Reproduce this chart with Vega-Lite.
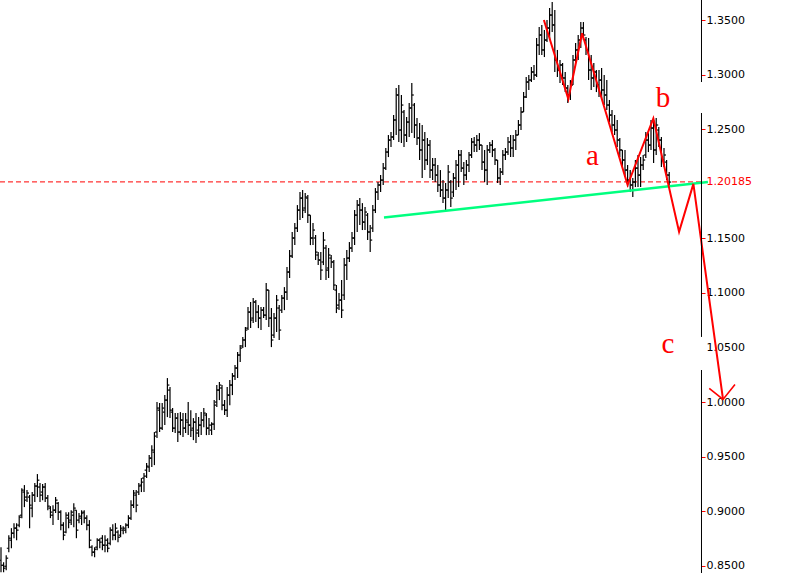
{
  "$schema": "https://vega.github.io/schema/vega-lite/v6.json",
  "width": 701,
  "height": 573,
  "autosize": {"type": "none"},
  "padding": {"left": 0, "top": 0, "right": 95, "bottom": 0},
  "background": "white",
  "config": {"view": {"stroke": null}, "axis": {"labelFont": "DejaVu Sans", "labelFontSize": 11}},
  "datasets": {
    "bars": [
      {"i":0,"h":0.8670,"l":0.8440,"o":0.8550,"c":0.8504},
      {"i":1,"h":0.8532,"l":0.8440,"o":0.8504,"c":0.8477},
      {"i":2,"h":0.8596,"l":0.8459,"o":0.8495,"c":0.8569},
      {"i":3,"h":0.8780,"l":0.8624,"o":0.8660,"c":0.8752},
      {"i":4,"h":0.8844,"l":0.8660,"o":0.8734,"c":0.8798},
      {"i":5,"h":0.8890,"l":0.8752,"o":0.8798,"c":0.8844},
      {"i":6,"h":0.8890,"l":0.8734,"o":0.8844,"c":0.8826},
      {"i":7,"h":0.8963,"l":0.8853,"o":0.8872,"c":0.8945},
      {"i":8,"h":0.9211,"l":0.8936,"o":0.8963,"c":0.9193},
      {"i":9,"h":0.9239,"l":0.9037,"o":0.9175,"c":0.9101},
      {"i":10,"h":0.9193,"l":0.9083,"o":0.9129,"c":0.9166},
      {"i":11,"h":0.9147,"l":0.8844,"o":0.9129,"c":0.9055},
      {"i":12,"h":0.9175,"l":0.8945,"o":0.9028,"c":0.9147},
      {"i":13,"h":0.9257,"l":0.9083,"o":0.9147,"c":0.9230},
      {"i":14,"h":0.9340,"l":0.9129,"o":0.9230,"c":0.9284},
      {"i":15,"h":0.9257,"l":0.9083,"o":0.9221,"c":0.9147},
      {"i":16,"h":0.9248,"l":0.9101,"o":0.9175,"c":0.9221},
      {"i":17,"h":0.9257,"l":0.9083,"o":0.9221,"c":0.9120},
      {"i":18,"h":0.9147,"l":0.9009,"o":0.9120,"c":0.9046},
      {"i":19,"h":0.9046,"l":0.8936,"o":0.9028,"c":0.8991},
      {"i":20,"h":0.9055,"l":0.8872,"o":0.8963,"c":0.9009},
      {"i":21,"h":0.9129,"l":0.8982,"o":0.9009,"c":0.9101},
      {"i":22,"h":0.9083,"l":0.8918,"o":0.9073,"c":0.8991},
      {"i":23,"h":0.9009,"l":0.8826,"o":0.8991,"c":0.8872},
      {"i":24,"h":0.8899,"l":0.8734,"o":0.8872,"c":0.8780},
      {"i":25,"h":0.8991,"l":0.8798,"o":0.8808,"c":0.8963},
      {"i":26,"h":0.8991,"l":0.8844,"o":0.8936,"c":0.8899},
      {"i":27,"h":0.9009,"l":0.8872,"o":0.8918,"c":0.8991},
      {"i":28,"h":0.9073,"l":0.8853,"o":0.8963,"c":0.9028},
      {"i":29,"h":0.9009,"l":0.8752,"o":0.9009,"c":0.8826},
      {"i":30,"h":0.8982,"l":0.8890,"o":0.8918,"c":0.8954},
      {"i":31,"h":0.9009,"l":0.8872,"o":0.8936,"c":0.8982},
      {"i":32,"h":0.9009,"l":0.8890,"o":0.8991,"c":0.8936},
      {"i":33,"h":0.8963,"l":0.8826,"o":0.8936,"c":0.8872},
      {"i":34,"h":0.8918,"l":0.8660,"o":0.8872,"c":0.8734},
      {"i":35,"h":0.8688,"l":0.8587,"o":0.8670,"c":0.8624},
      {"i":36,"h":0.8670,"l":0.8578,"o":0.8624,"c":0.8651},
      {"i":37,"h":0.8752,"l":0.8642,"o":0.8670,"c":0.8734},
      {"i":38,"h":0.8752,"l":0.8660,"o":0.8734,"c":0.8716},
      {"i":39,"h":0.8780,"l":0.8642,"o":0.8752,"c":0.8688},
      {"i":40,"h":0.8780,"l":0.8624,"o":0.8688,"c":0.8734},
      {"i":41,"h":0.8752,"l":0.8624,"o":0.8688,"c":0.8660},
      {"i":42,"h":0.8853,"l":0.8688,"o":0.8706,"c":0.8826},
      {"i":43,"h":0.8881,"l":0.8734,"o":0.8826,"c":0.8780},
      {"i":44,"h":0.8890,"l":0.8734,"o":0.8780,"c":0.8844},
      {"i":45,"h":0.8826,"l":0.8716,"o":0.8808,"c":0.8761},
      {"i":46,"h":0.8872,"l":0.8761,"o":0.8780,"c":0.8844},
      {"i":47,"h":0.8862,"l":0.8789,"o":0.8826,"c":0.8844},
      {"i":48,"h":0.8890,"l":0.8798,"o":0.8826,"c":0.8872},
      {"i":49,"h":0.8963,"l":0.8844,"o":0.8872,"c":0.8936},
      {"i":50,"h":0.9101,"l":0.8918,"o":0.8936,"c":0.9055},
      {"i":51,"h":0.9193,"l":0.9028,"o":0.9055,"c":0.9166},
      {"i":52,"h":0.9193,"l":0.8991,"o":0.9147,"c":0.9055},
      {"i":53,"h":0.9257,"l":0.9147,"o":0.9175,"c":0.9230},
      {"i":54,"h":0.9303,"l":0.9175,"o":0.9239,"c":0.9266},
      {"i":55,"h":0.9349,"l":0.9175,"o":0.9303,"c":0.9321},
      {"i":56,"h":0.9441,"l":0.9303,"o":0.9376,"c":0.9413},
      {"i":57,"h":0.9514,"l":0.9358,"o":0.9404,"c":0.9486},
      {"i":58,"h":0.9605,"l":0.9404,"o":0.9486,"c":0.9560},
      {"i":59,"h":0.9725,"l":0.9422,"o":0.9541,"c":0.9688},
      {"i":60,"h":1.0000,"l":0.9670,"o":0.9725,"c":0.9945},
      {"i":61,"h":0.9991,"l":0.9725,"o":0.9926,"c":0.9761},
      {"i":62,"h":0.9991,"l":0.9743,"o":0.9761,"c":0.9945},
      {"i":63,"h":1.0064,"l":0.9789,"o":0.9908,"c":1.0018},
      {"i":64,"h":1.0220,"l":0.9862,"o":1.0018,"c":1.0156},
      {"i":65,"h":1.0138,"l":0.9853,"o":1.0110,"c":0.9926},
      {"i":66,"h":0.9945,"l":0.9725,"o":0.9908,"c":0.9761},
      {"i":67,"h":0.9899,"l":0.9716,"o":0.9761,"c":0.9853},
      {"i":68,"h":0.9899,"l":0.9633,"o":0.9853,"c":0.9725},
      {"i":69,"h":0.9908,"l":0.9697,"o":0.9725,"c":0.9835},
      {"i":70,"h":0.9899,"l":0.9679,"o":0.9835,"c":0.9761},
      {"i":71,"h":0.9899,"l":0.9716,"o":0.9761,"c":0.9835},
      {"i":72,"h":1.0000,"l":0.9697,"o":0.9816,"c":0.9789},
      {"i":73,"h":0.9926,"l":0.9679,"o":0.9789,"c":0.9743},
      {"i":74,"h":0.9853,"l":0.9651,"o":0.9761,"c":0.9816},
      {"i":75,"h":0.9899,"l":0.9624,"o":0.9816,"c":0.9716},
      {"i":76,"h":0.9862,"l":0.9679,"o":0.9743,"c":0.9789},
      {"i":77,"h":0.9908,"l":0.9697,"o":0.9789,"c":0.9835},
      {"i":78,"h":0.9945,"l":0.9770,"o":0.9835,"c":0.9899},
      {"i":79,"h":0.9899,"l":0.9697,"o":0.9881,"c":0.9761},
      {"i":80,"h":0.9853,"l":0.9697,"o":0.9761,"c":0.9789},
      {"i":81,"h":0.9816,"l":0.9697,"o":0.9743,"c":0.9798},
      {"i":82,"h":1.0018,"l":0.9743,"o":0.9798,"c":0.9972},
      {"i":83,"h":1.0156,"l":0.9954,"o":1.0000,"c":1.0110},
      {"i":84,"h":1.0184,"l":1.0018,"o":1.0110,"c":1.0156},
      {"i":85,"h":1.0156,"l":0.9926,"o":1.0129,"c":0.9972},
      {"i":86,"h":1.0018,"l":0.9881,"o":0.9972,"c":0.9926},
      {"i":87,"h":1.0138,"l":0.9862,"o":0.9926,"c":1.0064},
      {"i":88,"h":1.0202,"l":0.9972,"o":1.0064,"c":1.0156},
      {"i":89,"h":1.0266,"l":1.0064,"o":1.0156,"c":1.0239},
      {"i":90,"h":1.0339,"l":1.0202,"o":1.0239,"c":1.0312},
      {"i":91,"h":1.0459,"l":1.0220,"o":1.0312,"c":1.0431},
      {"i":92,"h":1.0523,"l":1.0367,"o":1.0431,"c":1.0495},
      {"i":93,"h":1.0596,"l":1.0495,"o":1.0514,"c":1.0569},
      {"i":94,"h":1.0688,"l":1.0504,"o":1.0569,"c":1.0660},
      {"i":95,"h":1.0871,"l":1.0660,"o":1.0678,"c":1.0825},
      {"i":96,"h":1.0917,"l":1.0678,"o":1.0825,"c":1.0752},
      {"i":97,"h":1.0953,"l":1.0724,"o":1.0770,"c":1.0917},
      {"i":98,"h":1.0935,"l":1.0733,"o":1.0917,"c":1.0825},
      {"i":99,"h":1.0889,"l":1.0678,"o":1.0825,"c":1.0770},
      {"i":100,"h":1.0871,"l":1.0660,"o":1.0770,"c":1.0843},
      {"i":101,"h":1.0871,"l":1.0770,"o":1.0843,"c":1.0797},
      {"i":102,"h":1.1091,"l":1.0752,"o":1.0797,"c":1.1027},
      {"i":103,"h":1.1027,"l":1.0688,"o":1.1027,"c":1.0770},
      {"i":104,"h":1.0862,"l":1.0504,"o":1.0770,"c":1.0569},
      {"i":105,"h":1.0816,"l":1.0587,"o":1.0614,"c":1.0770},
      {"i":106,"h":1.0981,"l":1.0642,"o":1.0770,"c":1.0935},
      {"i":107,"h":1.0889,"l":1.0569,"o":1.0862,"c":1.0660},
      {"i":108,"h":1.0981,"l":1.0816,"o":1.0843,"c":1.0953},
      {"i":109,"h":1.1054,"l":1.0843,"o":1.0953,"c":1.1008},
      {"i":110,"h":1.1238,"l":1.0935,"o":1.1008,"c":1.1192},
      {"i":111,"h":1.1394,"l":1.1137,"o":1.1192,"c":1.1339},
      {"i":112,"h":1.1559,"l":1.1320,"o":1.1339,"c":1.1504},
      {"i":113,"h":1.1641,"l":1.1439,"o":1.1504,"c":1.1595},
      {"i":114,"h":1.1806,"l":1.1559,"o":1.1595,"c":1.1760},
      {"i":115,"h":1.1925,"l":1.1669,"o":1.1760,"c":1.1870},
      {"i":116,"h":1.1944,"l":1.1687,"o":1.1870,"c":1.1760},
      {"i":117,"h":1.1916,"l":1.1733,"o":1.1779,"c":1.1880},
      {"i":118,"h":1.1898,"l":1.1641,"o":1.1870,"c":1.1714},
      {"i":119,"h":1.1714,"l":1.1439,"o":1.1714,"c":1.1504},
      {"i":120,"h":1.1641,"l":1.1439,"o":1.1504,"c":1.1577},
      {"i":121,"h":1.1531,"l":1.1302,"o":1.1504,"c":1.1375},
      {"i":122,"h":1.1375,"l":1.1256,"o":1.1348,"c":1.1302},
      {"i":123,"h":1.1375,"l":1.1119,"o":1.1302,"c":1.1210},
      {"i":124,"h":1.1559,"l":1.1256,"o":1.1284,"c":1.1485},
      {"i":125,"h":1.1439,"l":1.1119,"o":1.1412,"c":1.1210},
      {"i":126,"h":1.1412,"l":1.1137,"o":1.1229,"c":1.1348},
      {"i":127,"h":1.1348,"l":1.1229,"o":1.1320,"c":1.1284},
      {"i":128,"h":1.1302,"l":1.1027,"o":1.1284,"c":1.1073},
      {"i":129,"h":1.1073,"l":1.0816,"o":1.1027,"c":1.0862},
      {"i":130,"h":1.0999,"l":1.0843,"o":1.0889,"c":1.0935},
      {"i":131,"h":1.1119,"l":1.0770,"o":1.0935,"c":1.0843},
      {"i":132,"h":1.1320,"l":1.0935,"o":1.0981,"c":1.1256},
      {"i":133,"h":1.1394,"l":1.1119,"o":1.1256,"c":1.1320},
      {"i":134,"h":1.1467,"l":1.1284,"o":1.1320,"c":1.1412},
      {"i":135,"h":1.1559,"l":1.1375,"o":1.1412,"c":1.1504},
      {"i":136,"h":1.1760,"l":1.1439,"o":1.1504,"c":1.1714},
      {"i":137,"h":1.1852,"l":1.1559,"o":1.1714,"c":1.1806},
      {"i":138,"h":1.1870,"l":1.1623,"o":1.1806,"c":1.1760},
      {"i":139,"h":1.1824,"l":1.1577,"o":1.1760,"c":1.1650},
      {"i":140,"h":1.1788,"l":1.1577,"o":1.1650,"c":1.1742},
      {"i":141,"h":1.1733,"l":1.1485,"o":1.1714,"c":1.1559},
      {"i":142,"h":1.1623,"l":1.1375,"o":1.1559,"c":1.1485},
      {"i":143,"h":1.1806,"l":1.1559,"o":1.1595,"c":1.1760},
      {"i":144,"h":1.1962,"l":1.1733,"o":1.1760,"c":1.1925},
      {"i":145,"h":1.2017,"l":1.1852,"o":1.1925,"c":1.1990},
      {"i":146,"h":1.2081,"l":1.1925,"o":1.1990,"c":1.2035},
      {"i":147,"h":1.2191,"l":1.1990,"o":1.2035,"c":1.2145},
      {"i":148,"h":1.2329,"l":1.2127,"o":1.2145,"c":1.2292},
      {"i":149,"h":1.2448,"l":1.2246,"o":1.2292,"c":1.2402},
      {"i":150,"h":1.2476,"l":1.2338,"o":1.2402,"c":1.2430},
      {"i":151,"h":1.2631,"l":1.2402,"o":1.2430,"c":1.2586},
      {"i":152,"h":1.2879,"l":1.2448,"o":1.2586,"c":1.2815},
      {"i":153,"h":1.2907,"l":1.2384,"o":1.2815,"c":1.2494},
      {"i":154,"h":1.2815,"l":1.2375,"o":1.2494,"c":1.2723},
      {"i":155,"h":1.2677,"l":1.2338,"o":1.2659,"c":1.2448},
      {"i":156,"h":1.2613,"l":1.2384,"o":1.2448,"c":1.2567},
      {"i":157,"h":1.2742,"l":1.2430,"o":1.2567,"c":1.2696},
      {"i":158,"h":1.2925,"l":1.2466,"o":1.2696,"c":1.2815},
      {"i":159,"h":1.2742,"l":1.2421,"o":1.2723,"c":1.2540},
      {"i":160,"h":1.2604,"l":1.2356,"o":1.2540,"c":1.2421},
      {"i":161,"h":1.2558,"l":1.2219,"o":1.2421,"c":1.2311},
      {"i":162,"h":1.2540,"l":1.2054,"o":1.2311,"c":1.2402},
      {"i":163,"h":1.2476,"l":1.2127,"o":1.2402,"c":1.2219},
      {"i":164,"h":1.2421,"l":1.2173,"o":1.2219,"c":1.2356},
      {"i":165,"h":1.2402,"l":1.2054,"o":1.2356,"c":1.2127},
      {"i":166,"h":1.2237,"l":1.2035,"o":1.2127,"c":1.2173},
      {"i":167,"h":1.2237,"l":1.2017,"o":1.2173,"c":1.2081},
      {"i":168,"h":1.2173,"l":1.1925,"o":1.2081,"c":1.1990},
      {"i":169,"h":1.2127,"l":1.1880,"o":1.1990,"c":1.1944},
      {"i":170,"h":1.2035,"l":1.1824,"o":1.1944,"c":1.1870},
      {"i":171,"h":1.2008,"l":1.1760,"o":1.1870,"c":1.1944},
      {"i":172,"h":1.2173,"l":1.1870,"o":1.1944,"c":1.2109},
      {"i":173,"h":1.2035,"l":1.1788,"o":1.2017,"c":1.1870},
      {"i":174,"h":1.2100,"l":1.1880,"o":1.1925,"c":1.2054},
      {"i":175,"h":1.2219,"l":1.1944,"o":1.2054,"c":1.2173},
      {"i":176,"h":1.2311,"l":1.1971,"o":1.2173,"c":1.2265},
      {"i":177,"h":1.2311,"l":1.2109,"o":1.2265,"c":1.2145},
      {"i":178,"h":1.2200,"l":1.1990,"o":1.2145,"c":1.2081},
      {"i":179,"h":1.2219,"l":1.2035,"o":1.2081,"c":1.2173},
      {"i":180,"h":1.2292,"l":1.2109,"o":1.2173,"c":1.2265},
      {"i":181,"h":1.2421,"l":1.2237,"o":1.2265,"c":1.2384},
      {"i":182,"h":1.2430,"l":1.2292,"o":1.2384,"c":1.2356},
      {"i":183,"h":1.2448,"l":1.2292,"o":1.2356,"c":1.2402},
      {"i":184,"h":1.2466,"l":1.2311,"o":1.2402,"c":1.2356},
      {"i":185,"h":1.2356,"l":1.2127,"o":1.2356,"c":1.2200},
      {"i":186,"h":1.2311,"l":1.2017,"o":1.2200,"c":1.2127},
      {"i":187,"h":1.2356,"l":1.1990,"o":1.2127,"c":1.2311},
      {"i":188,"h":1.2384,"l":1.2283,"o":1.2311,"c":1.2356},
      {"i":189,"h":1.2402,"l":1.2246,"o":1.2356,"c":1.2311},
      {"i":190,"h":1.2329,"l":1.2173,"o":1.2311,"c":1.2219},
      {"i":191,"h":1.2219,"l":1.2008,"o":1.2219,"c":1.2054},
      {"i":192,"h":1.2145,"l":1.1990,"o":1.2054,"c":1.2109},
      {"i":193,"h":1.2311,"l":1.2081,"o":1.2109,"c":1.2265},
      {"i":194,"h":1.2329,"l":1.2219,"o":1.2265,"c":1.2292},
      {"i":195,"h":1.2430,"l":1.2265,"o":1.2292,"c":1.2384},
      {"i":196,"h":1.2448,"l":1.2246,"o":1.2384,"c":1.2329},
      {"i":197,"h":1.2448,"l":1.2246,"o":1.2329,"c":1.2402},
      {"i":198,"h":1.2494,"l":1.2311,"o":1.2402,"c":1.2448},
      {"i":199,"h":1.2586,"l":1.2448,"o":1.2448,"c":1.2540},
      {"i":200,"h":1.2705,"l":1.2494,"o":1.2540,"c":1.2659},
      {"i":201,"h":1.2842,"l":1.2659,"o":1.2659,"c":1.2797},
      {"i":202,"h":1.2980,"l":1.2787,"o":1.2797,"c":1.2934},
      {"i":203,"h":1.2998,"l":1.2861,"o":1.2934,"c":1.2952},
      {"i":204,"h":1.3072,"l":1.2934,"o":1.2952,"c":1.3026},
      {"i":205,"h":1.3090,"l":1.2952,"o":1.3026,"c":1.2998},
      {"i":206,"h":1.3338,"l":1.2980,"o":1.2998,"c":1.3273},
      {"i":207,"h":1.3438,"l":1.3182,"o":1.3273,"c":1.3365},
      {"i":208,"h":1.3457,"l":1.3182,"o":1.3365,"c":1.3228},
      {"i":209,"h":1.3411,"l":1.3163,"o":1.3228,"c":1.3319},
      {"i":210,"h":1.3503,"l":1.3301,"o":1.3319,"c":1.3429},
      {"i":211,"h":1.3613,"l":1.3319,"o":1.3429,"c":1.3548},
      {"i":212,"h":1.3668,"l":1.3393,"o":1.3548,"c":1.3457},
      {"i":213,"h":1.3594,"l":1.3026,"o":1.3457,"c":1.3136},
      {"i":214,"h":1.3228,"l":1.2980,"o":1.3136,"c":1.3044},
      {"i":215,"h":1.3136,"l":1.2925,"o":1.3044,"c":1.3090},
      {"i":216,"h":1.3108,"l":1.2907,"o":1.3090,"c":1.2971},
      {"i":217,"h":1.3026,"l":1.2842,"o":1.2971,"c":1.2879},
      {"i":218,"h":1.2907,"l":1.2742,"o":1.2879,"c":1.2815},
      {"i":219,"h":1.2952,"l":1.2769,"o":1.2815,"c":1.2907},
      {"i":220,"h":1.3182,"l":1.2907,"o":1.2907,"c":1.3136},
      {"i":221,"h":1.3292,"l":1.3117,"o":1.3136,"c":1.3228},
      {"i":222,"h":1.3365,"l":1.3136,"o":1.3228,"c":1.3319},
      {"i":223,"h":1.3484,"l":1.3246,"o":1.3319,"c":1.3429},
      {"i":224,"h":1.3484,"l":1.3319,"o":1.3429,"c":1.3365},
      {"i":225,"h":1.3347,"l":1.3182,"o":1.3319,"c":1.3228},
      {"i":226,"h":1.3338,"l":1.2952,"o":1.3228,"c":1.3044},
      {"i":227,"h":1.3182,"l":1.2861,"o":1.3044,"c":1.2971},
      {"i":228,"h":1.3108,"l":1.2888,"o":1.2971,"c":1.3026},
      {"i":229,"h":1.3044,"l":1.2842,"o":1.3026,"c":1.2907},
      {"i":230,"h":1.3044,"l":1.2797,"o":1.2907,"c":1.2952},
      {"i":231,"h":1.3062,"l":1.2769,"o":1.2952,"c":1.2861},
      {"i":232,"h":1.2998,"l":1.2723,"o":1.2861,"c":1.2815},
      {"i":233,"h":1.2952,"l":1.2677,"o":1.2815,"c":1.2723},
      {"i":234,"h":1.2769,"l":1.2567,"o":1.2723,"c":1.2631},
      {"i":235,"h":1.2677,"l":1.2476,"o":1.2631,"c":1.2540},
      {"i":236,"h":1.2631,"l":1.2448,"o":1.2540,"c":1.2494},
      {"i":237,"h":1.2586,"l":1.2338,"o":1.2494,"c":1.2402},
      {"i":238,"h":1.2421,"l":1.2246,"o":1.2402,"c":1.2311},
      {"i":239,"h":1.2311,"l":1.2155,"o":1.2311,"c":1.2219},
      {"i":240,"h":1.2311,"l":1.2063,"o":1.2219,"c":1.2127},
      {"i":241,"h":1.2173,"l":1.1971,"o":1.2127,"c":1.2035},
      {"i":242,"h":1.2127,"l":1.1925,"o":1.2035,"c":1.1990},
      {"i":243,"h":1.2054,"l":1.1880,"o":1.1990,"c":1.2017},
      {"i":244,"h":1.2219,"l":1.1971,"o":1.2017,"c":1.2145},
      {"i":245,"h":1.2265,"l":1.1971,"o":1.2145,"c":1.2081},
      {"i":246,"h":1.2246,"l":1.1971,"o":1.2081,"c":1.2173},
      {"i":247,"h":1.2265,"l":1.2127,"o":1.2173,"c":1.2219},
      {"i":248,"h":1.2476,"l":1.2237,"o":1.2265,"c":1.2402},
      {"i":249,"h":1.2466,"l":1.2292,"o":1.2402,"c":1.2356},
      {"i":250,"h":1.2586,"l":1.2311,"o":1.2356,"c":1.2512},
      {"i":251,"h":1.2586,"l":1.2191,"o":1.2512,"c":1.2311},
      {"i":252,"h":1.2604,"l":1.2265,"o":1.2311,"c":1.2540},
      {"i":253,"h":1.2521,"l":1.2338,"o":1.2494,"c":1.2402},
      {"i":254,"h":1.2430,"l":1.2155,"o":1.2402,"c":1.2219},
      {"i":255,"h":1.2329,"l":1.2155,"o":1.2219,"c":1.2265},
      {"i":256,"h":1.2219,"l":1.2035,"o":1.2200,"c":1.2081},
      {"i":257,"h":1.2109,"l":1.1971,"o":1.2081,"c":1.2017}
    ],
    "green": [
      {"i":147.3,"p":1.1691},
      {"i":271.9,"p":1.2018}
    ],
    "zig": [
      {"k":1,"i":208.8,"p":1.3503},
      {"k":2,"i":218.2,"p":1.2778},
      {"k":3,"i":223.5,"p":1.3381},
      {"k":4,"i":241.0,"p":1.1990},
      {"k":5,"i":250.9,"p":1.2601},
      {"k":6,"i":260.8,"p":1.1561},
      {"k":7,"i":266.3,"p":1.2000},
      {"k":8,"i":277.7,"p":1.0024}
    ],
    "arrow": [
      {"k":1,"i":272.4,"p":1.0125},
      {"k":2,"i":277.7,"p":1.0024},
      {"k":3,"i":282.3,"p":1.0162}
    ],
    "labels": [
      {"t":"a","i":227.5,"p":1.2173},
      {"t":"b","i":254.6,"p":1.2702},
      {"t":"c","i":256.5,"p":1.0452}
    ],
    "axisseg": [
      {"y1":1.3686,"y2":1.2934},
      {"y1":1.2650,"y2":1.0597},
      {"y1":1.0294,"y2":0.8433}
    ]
  },
  "layer": [
    {
      "data": {"values": [{"v": 1.20185}]},
      "mark": {"type": "rule", "color": "#ff0000", "strokeWidth": 1, "strokeDash": [5, 3]},
      "encoding": {
        "y": {
          "field": "v", "type": "quantitative", "title": null,
          "scale": {"domain": [0.8433, 1.3686], "nice": false, "zero": false},
          "axis": {
            "orient": "right", "title": null, "grid": false, "domain": false,
            "values": [0.85, 0.9, 0.95, 1, 1.05, 1.1, 1.15, 1.20185, 1.25, 1.3, 1.35],
            "labelExpr": "datum.value > 1.2018 && datum.value < 1.2019 ? '1.20185' : format(datum.value, '.4f')",
            "labelColor": {"condition": {"test": "datum.value > 1.2018 && datum.value < 1.2019", "value": "#ff0000"}, "value": "#000000"},
            "tickColor": {"condition": {"test": "datum.value > 1.049 && datum.value < 1.051", "value": "transparent"}, "value": "#ff0000"},
            "tickSize": 4, "tickWidth": 1, "labelPadding": 1,
            "labelOverlap": false, "labelBound": false, "labelFlush": false,
            "labelBaseline": "middle"
          }
        }
      }
    },
    {
      "data": {"name": "bars"},
      "mark": {"type": "rule", "color": "#000000", "strokeWidth": 1.2},
      "encoding": {
        "x": {"field": "i", "type": "quantitative", "scale": {"domain": [-0.385, 269.23], "nice": false, "zero": false}, "axis": null},
        "y": {"field": "l", "type": "quantitative", "title": null},
        "y2": {"field": "h"}
      }
    },
    {
      "data": {"name": "bars"},
      "mark": {"type": "tick", "orient": "horizontal", "size": 2, "thickness": 1.2, "xOffset": -1, "color": "#000000", "opacity": 1},
      "encoding": {
        "x": {"field": "i", "type": "quantitative", "axis": null},
        "y": {"field": "o", "type": "quantitative", "title": null}
      }
    },
    {
      "data": {"name": "bars"},
      "mark": {"type": "tick", "orient": "horizontal", "size": 2, "thickness": 1.2, "xOffset": 1, "color": "#000000", "opacity": 1},
      "encoding": {
        "x": {"field": "i", "type": "quantitative", "axis": null},
        "y": {"field": "c", "type": "quantitative", "title": null}
      }
    },
    {
      "data": {"name": "green"},
      "mark": {"type": "line", "color": "#00ff7f", "strokeWidth": 2.5},
      "encoding": {
        "x": {"field": "i", "type": "quantitative", "axis": null},
        "y": {"field": "p", "type": "quantitative", "title": null}
      }
    },
    {
      "data": {"name": "zig"},
      "mark": {"type": "line", "color": "#ff0000", "strokeWidth": 2, "strokeJoin": "miter"},
      "encoding": {
        "x": {"field": "i", "type": "quantitative", "axis": null},
        "y": {"field": "p", "type": "quantitative", "title": null},
        "order": {"field": "k"}
      }
    },
    {
      "data": {"name": "arrow"},
      "mark": {"type": "line", "color": "#ff0000", "strokeWidth": 1.6},
      "encoding": {
        "x": {"field": "i", "type": "quantitative", "axis": null},
        "y": {"field": "p", "type": "quantitative", "title": null},
        "order": {"field": "k"}
      }
    },
    {
      "data": {"name": "labels"},
      "mark": {"type": "text", "color": "#ff0000", "font": "Liberation Serif", "fontSize": 29, "align": "center", "baseline": "alphabetic"},
      "encoding": {
        "x": {"field": "i", "type": "quantitative", "axis": null},
        "y": {"field": "p", "type": "quantitative", "title": null},
        "text": {"field": "t"}
      }
    },
    {
      "data": {"name": "axisseg"},
      "mark": {"type": "rule", "color": "#000000", "strokeWidth": 1},
      "encoding": {
        "x": {"datum": 269.42, "type": "quantitative", "axis": null},
        "y": {"field": "y1", "type": "quantitative", "title": null},
        "y2": {"field": "y2"}
      }
    }
  ]
}
